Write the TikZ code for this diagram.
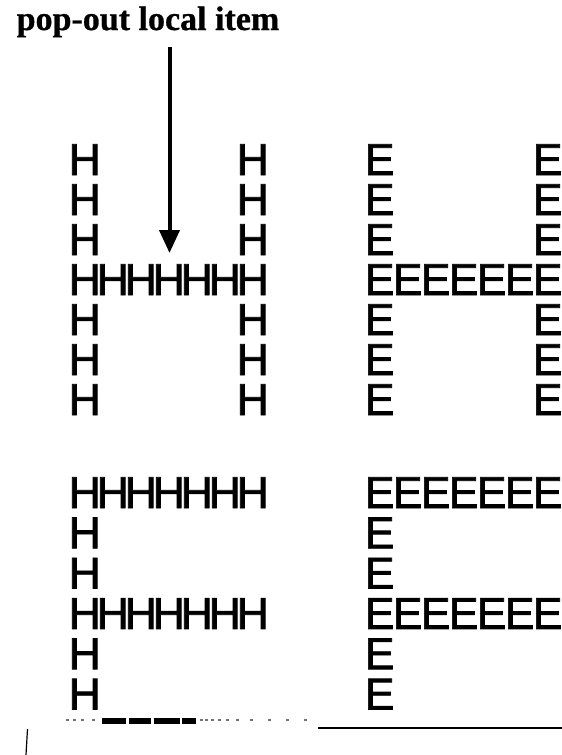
\documentclass[tikz,border=0pt]{standalone}
\usepackage{fontspec}
\setmainfont{Liberation Serif}
\newfontfamily\letterfont[FakeBold=1.6]{Liberation Sans}
\newfontfamily\titlefont[FakeBold=0.8]{Liberation Serif Bold}
\usetikzlibrary{arrows.meta}
\tikzset{
  titletext/.style={font=\titlefont\fontsize{34}{34}\selectfont, inner sep=0pt, anchor=base west},
  letter/.style={font=\letterfont\fontsize{44.7}{44.7}\selectfont, inner sep=0pt, anchor=base west},
  pointer/.style={line width=4pt, -{Triangle[width=20pt,length=23pt]}},
  artifact/.style={fill=black, draw=none},
  faint/.style={fill=black!55, draw=none},
}
\begin{document}
\begin{tikzpicture}[x=1pt,y=-1pt]
\useasboundingbox (0,0) rectangle (562,755);
% title
\node[titletext] (title) at (16.5,30) {pop-out local item};
% arrow
\coordinate (arrowtop) at (169.5,47);
\coordinate (arrowtip) at (169.5,253);
\draw[pointer] (arrowtop) -- (arrowtip);
% upper group: H and E shapes
\foreach \r/\cl in {0/{0,6},1/{0,6},2/{0,6},3/{0,1,2,3,4,5,6},4/{0,6},5/{0,6},6/{0,6}} {
  \foreach \c in \cl {
    \node[letter] (hu-\r-\c) at ({68.4+28*\c},{175+40*\r}) {H};
    \node[letter] (eu-\r-\c) at ({364.5+28*\c},{175+40*\r}) {E};
  }
}
% lower group: F shapes
\foreach \r/\cl in {0/{0,1,2,3,4,5,6},1/{0},2/{0},3/{0,1,2,3,4,5,6},4/{0},5/{0}} {
  \foreach \c in \cl {
    \node[letter] (hl-\r-\c) at ({68.4+28*\c},{508+40.3*\r}) {H};
    \node[letter] (el-\r-\c) at ({364.5+28*\c},{508+40.3*\r}) {E};
  }
}
% scan artifacts at the bottom
\foreach \x in {66,73,81,92} { \fill[faint] (\x,719) rectangle ++(3,2); }
\fill[artifact] (102,718) rectangle (126,724);
\fill[artifact] (129,718) rectangle (151,724);
\fill[artifact] (154,718) rectangle (180,724);
\fill[artifact] (182,718) rectangle (196,724);
\foreach \x in {200,205,211,218,226,236,250,268,286,304} { \fill[faint] (\x,719) rectangle ++(2.5,2); }
\draw[line width=1.2pt] (318,728) -- (562,728);
\draw[line width=1.2pt] (27.5,729) -- (26,755);
\end{tikzpicture}
\end{document}
